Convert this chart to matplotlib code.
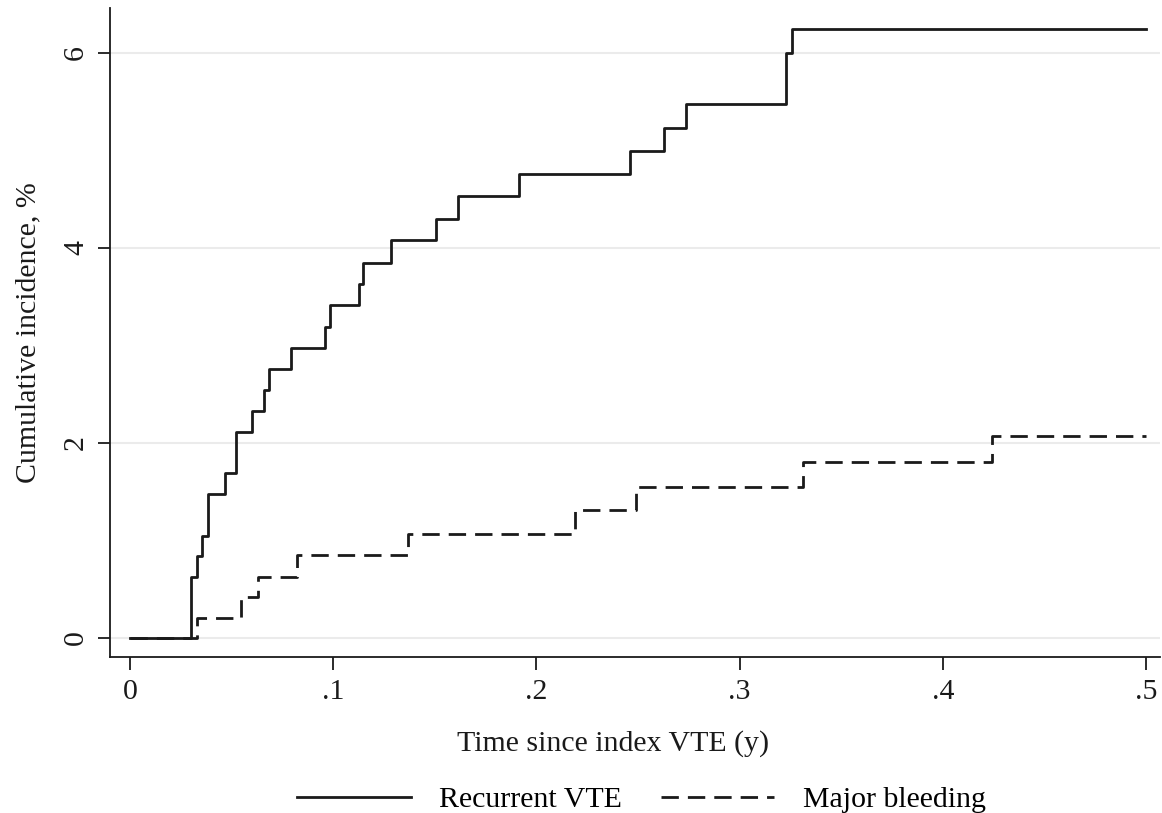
import matplotlib
matplotlib.use("Agg")
import matplotlib.pyplot as plt

# cumulative incidence steps (time in years, value in %)
vte_t = [0, 0.030, 0.0331, 0.0356, 0.0384, 0.0468, 0.052, 0.0602, 0.0658, 0.0686,
         0.0794, 0.0958, 0.0986, 0.1125, 0.1149, 0.1284, 0.1506, 0.1616, 0.1916,
         0.2462, 0.2628, 0.2736, 0.3227, 0.3256, 0.5]
vte_v = [0, 0.63, 0.84, 1.05, 1.48, 1.69, 2.11, 2.33, 2.54, 2.76,
         2.97, 3.19, 3.41, 3.63, 3.85, 4.08, 4.30, 4.53, 4.76,
         4.99, 5.23, 5.48, 6.00, 6.24, 6.24]

bleed_t = [0, 0.0328, 0.0546, 0.063, 0.082, 0.1368, 0.219, 0.249, 0.331, 0.424, 0.5]
bleed_v = [0, 0.21, 0.42, 0.63, 0.85, 1.07, 1.31, 1.55, 1.80, 2.07, 2.07]

x_ticks = [0, 0.1, 0.2, 0.3, 0.4, 0.5]
x_labels = ["0", ".1", ".2", ".3", ".4", ".5"]
y_ticks = [0, 2, 4, 6]

plt.rcParams['font.family'] = ['Liberation Serif', 'DejaVu Serif']
plt.rcParams['lines.scale_dashes'] = False

fig = plt.figure(figsize=(11.62, 8.13), dpi=100)
ax = fig.add_axes([110/1162, 1 - 657/813, 1050/1162, 649/813])

line_col = '#1a1a1a'
fs = 21.5
ax.step(vte_t, vte_v, where='post', color=line_col, lw=2.0, label='Recurrent VTE')
ax.step(bleed_t, bleed_v, where='post', color=line_col, lw=2.0,
        dashes=(12.5, 6.5), label='Major bleeding')

ax.set_xlim(-0.0098, 0.5069)
ax.set_ylim(-0.195, 6.46)

ax.set_xticks(x_ticks)
ax.set_xticklabels(x_labels)
ax.set_yticks(y_ticks)
ax.set_yticklabels([str(v) for v in y_ticks], rotation=90, va='center')

ax.yaxis.grid(True, color='#ebebeb', lw=1.5)
ax.set_axisbelow(True)
for side in ['top', 'right']:
    ax.spines[side].set_visible(False)
for side in ['left', 'bottom']:
    ax.spines[side].set_color(line_col)
    ax.spines[side].set_linewidth(1.3)

ax.tick_params(axis='both', direction='out', length=9, width=1.3,
               color=line_col, labelsize=fs, labelcolor=line_col)
ax.tick_params(axis='x', pad=7)
ax.tick_params(axis='y', pad=6)

ax.set_xlabel('Time since index VTE (y)', fontsize=fs, color=line_col)
ax.xaxis.set_label_coords(0.479, -0.112)
ax.set_ylabel('Cumulative incidence, %', fontsize=fs, color=line_col, labelpad=16)

fig.legend(loc='lower center', bbox_to_anchor=(0.552, -0.033), ncol=2, frameon=False,
           fontsize=fs, handlelength=3.8, columnspacing=1.3, handletextpad=0.95)

fig.savefig('out.png', dpi=100, facecolor='white')
